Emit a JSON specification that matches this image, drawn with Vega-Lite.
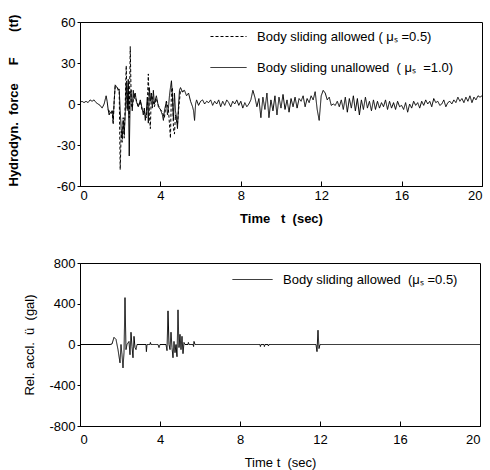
{
  "$schema": "https://vega.github.io/schema/vega-lite/v6.json",
  "padding": {"left": 6, "top": 13, "right": 5, "bottom": 0},
  "spacing": 30,
  "config": {
    "font": "Liberation Sans",
    "view": {"stroke": "black", "strokeWidth": 1},
    "axis": {"grid": false, "domainColor": "black", "tickColor": "black", "labelColor": "black", "titleColor": "black", "labelFont": "Liberation Sans", "labelFontSize": 13, "titleFont": "Liberation Sans", "titleFontSize": 13, "labelExpr": "datum.value < 0 ? '-' + abs(datum.value) : '' + datum.value"},
    "legend": {"labelFont": "Liberation Sans", "labelFontSize": 13, "labelColor": "black", "labelLimit": 0}
  },
  "datasets": {
    "force": [
      {"t":0.0,"v":1,"s":"B"},{"t":0.1,"v":2,"s":"B"},{"t":0.2,"v":1,"s":"B"},{"t":0.3,"v":2,"s":"B"},{"t":0.4,"v":1,"s":"B"},{"t":0.5,"v":3,"s":"B"},{"t":0.6,"v":2,"s":"B"},{"t":0.7,"v":3,"s":"B"},{"t":0.8,"v":1,"s":"B"},{"t":0.9,"v":0,"s":"B"},
      {"t":1.0,"v":-1,"s":"B"},{"t":1.1,"v":-3,"s":"B"},{"t":1.2,"v":0,"s":"B"},{"t":1.3,"v":6,"s":"B"},{"t":1.35,"v":2,"s":"B"},{"t":1.4,"v":-4,"s":"B"},{"t":1.45,"v":-8,"s":"B"},{"t":1.5,"v":-6,"s":"B"},{"t":1.55,"v":-7,"s":"B"},{"t":1.6,"v":-5,"s":"B"},
      {"t":1.65,"v":-12,"s":"B"},{"t":1.7,"v":2,"s":"B"},{"t":1.75,"v":14,"s":"B"},{"t":1.8,"v":13,"s":"B"},{"t":1.85,"v":12,"s":"B"},{"t":1.9,"v":10,"s":"B"},{"t":1.95,"v":11,"s":"B"},{"t":2.0,"v":-5,"s":"B"},{"t":2.05,"v":-18,"s":"B"},{"t":2.1,"v":-25,"s":"B"},
      {"t":2.15,"v":-12,"s":"B"},{"t":2.2,"v":-22,"s":"B"},{"t":2.25,"v":-8,"s":"B"},{"t":2.3,"v":15,"s":"B"},{"t":2.35,"v":-3,"s":"B"},{"t":2.4,"v":18,"s":"B"},{"t":2.45,"v":-38,"s":"B"},{"t":2.5,"v":8,"s":"B"},{"t":2.55,"v":10,"s":"B"},{"t":2.6,"v":-5,"s":"B"},
      {"t":2.65,"v":10,"s":"B"},{"t":2.7,"v":4,"s":"B"},{"t":2.75,"v":8,"s":"B"},{"t":2.8,"v":2,"s":"B"},{"t":2.9,"v":-2,"s":"B"},{"t":3.0,"v":3,"s":"B"},{"t":3.1,"v":-4,"s":"B"},{"t":3.15,"v":-8,"s":"B"},{"t":3.2,"v":-3,"s":"B"},{"t":3.25,"v":-12,"s":"B"},
      {"t":3.3,"v":-6,"s":"B"},{"t":3.35,"v":5,"s":"B"},{"t":3.4,"v":-14,"s":"B"},{"t":3.45,"v":12,"s":"B"},{"t":3.5,"v":2,"s":"B"},{"t":3.55,"v":8,"s":"B"},{"t":3.6,"v":-3,"s":"B"},{"t":3.65,"v":10,"s":"B"},{"t":3.7,"v":0,"s":"B"},{"t":3.8,"v":6,"s":"B"},
      {"t":3.9,"v":-2,"s":"B"},{"t":4.0,"v":-4,"s":"B"},{"t":4.1,"v":-8,"s":"B"},{"t":4.15,"v":-12,"s":"B"},{"t":4.2,"v":-5,"s":"B"},{"t":4.3,"v":2,"s":"B"},{"t":4.35,"v":-8,"s":"B"},{"t":4.4,"v":-3,"s":"B"},{"t":4.45,"v":6,"s":"B"},{"t":4.5,"v":12,"s":"B"},
      {"t":4.55,"v":17,"s":"B"},{"t":4.6,"v":5,"s":"B"},{"t":4.65,"v":-12,"s":"B"},{"t":4.7,"v":8,"s":"B"},{"t":4.75,"v":-5,"s":"B"},{"t":4.8,"v":-10,"s":"B"},{"t":4.85,"v":-18,"s":"B"},{"t":4.9,"v":-2,"s":"B"},{"t":4.95,"v":10,"s":"B"},{"t":5.0,"v":12,"s":"B"},
      {"t":5.1,"v":9,"s":"B"},{"t":5.2,"v":10,"s":"B"},{"t":5.3,"v":6,"s":"B"},{"t":5.4,"v":8,"s":"B"},{"t":5.5,"v":2,"s":"B"},{"t":5.6,"v":-2,"s":"B"},{"t":5.65,"v":-5,"s":"B"},{"t":5.7,"v":-12,"s":"B"},{"t":5.75,"v":0,"s":"B"},{"t":5.8,"v":3,"s":"B"},
      {"t":5.9,"v":-1,"s":"B"},{"t":6.0,"v":2,"s":"B"},{"t":6.1,"v":3,"s":"B"},{"t":6.2,"v":0,"s":"B"},{"t":6.3,"v":2,"s":"B"},{"t":6.4,"v":1,"s":"B"},{"t":6.5,"v":3,"s":"B"},{"t":6.6,"v":-1,"s":"B"},{"t":6.7,"v":2,"s":"B"},{"t":6.8,"v":0,"s":"B"},
      {"t":6.9,"v":3,"s":"B"},{"t":7.0,"v":-2,"s":"B"},{"t":7.1,"v":2,"s":"B"},{"t":7.2,"v":-1,"s":"B"},{"t":7.3,"v":3,"s":"B"},{"t":7.4,"v":1,"s":"B"},{"t":7.5,"v":-2,"s":"B"},{"t":7.6,"v":2,"s":"B"},{"t":7.7,"v":0,"s":"B"},{"t":7.8,"v":3,"s":"B"},
      {"t":7.9,"v":-1,"s":"B"},{"t":8.0,"v":2,"s":"B"},{"t":8.1,"v":-3,"s":"B"},{"t":8.2,"v":1,"s":"B"},{"t":8.3,"v":-2,"s":"B"},{"t":8.4,"v":0,"s":"B"},{"t":8.5,"v":3,"s":"B"},{"t":8.6,"v":10,"s":"B"},{"t":8.7,"v":5,"s":"B"},{"t":8.8,"v":-2,"s":"B"},
      {"t":8.9,"v":4,"s":"B"},{"t":9.0,"v":-10,"s":"B"},{"t":9.1,"v":5,"s":"B"},{"t":9.2,"v":-4,"s":"B"},{"t":9.3,"v":8,"s":"B"},{"t":9.4,"v":-10,"s":"B"},{"t":9.5,"v":3,"s":"B"},{"t":9.6,"v":-5,"s":"B"},{"t":9.7,"v":6,"s":"B"},{"t":9.8,"v":-8,"s":"B"},
      {"t":9.9,"v":5,"s":"B"},{"t":10.0,"v":-3,"s":"B"},{"t":10.1,"v":7,"s":"B"},{"t":10.2,"v":-4,"s":"B"},{"t":10.3,"v":3,"s":"B"},{"t":10.4,"v":-6,"s":"B"},{"t":10.5,"v":4,"s":"B"},{"t":10.6,"v":-2,"s":"B"},{"t":10.7,"v":5,"s":"B"},{"t":10.8,"v":-3,"s":"B"},
      {"t":10.9,"v":4,"s":"B"},{"t":11.0,"v":2,"s":"B"},{"t":11.1,"v":6,"s":"B"},{"t":11.2,"v":-2,"s":"B"},{"t":11.3,"v":4,"s":"B"},{"t":11.4,"v":1,"s":"B"},{"t":11.5,"v":6,"s":"B"},{"t":11.6,"v":3,"s":"B"},{"t":11.7,"v":9,"s":"B"},{"t":11.8,"v":-4,"s":"B"},
      {"t":11.9,"v":-12,"s":"B"},{"t":12.0,"v":6,"s":"B"},{"t":12.1,"v":10,"s":"B"},{"t":12.2,"v":8,"s":"B"},{"t":12.3,"v":3,"s":"B"},{"t":12.4,"v":5,"s":"B"},{"t":12.5,"v":-1,"s":"B"},{"t":12.6,"v":0,"s":"B"},{"t":12.7,"v":-1,"s":"B"},{"t":12.8,"v":2,"s":"B"},
      {"t":12.9,"v":-2,"s":"B"},{"t":13.0,"v":3,"s":"B"},{"t":13.1,"v":-4,"s":"B"},{"t":13.2,"v":5,"s":"B"},{"t":13.3,"v":-6,"s":"B"},{"t":13.4,"v":4,"s":"B"},{"t":13.5,"v":-3,"s":"B"},{"t":13.6,"v":6,"s":"B"},{"t":13.7,"v":-5,"s":"B"},{"t":13.8,"v":4,"s":"B"},
      {"t":13.9,"v":-8,"s":"B"},{"t":14.0,"v":3,"s":"B"},{"t":14.1,"v":-4,"s":"B"},{"t":14.2,"v":5,"s":"B"},{"t":14.3,"v":-3,"s":"B"},{"t":14.4,"v":2,"s":"B"},{"t":14.5,"v":-5,"s":"B"},{"t":14.6,"v":3,"s":"B"},{"t":14.7,"v":-4,"s":"B"},{"t":14.8,"v":2,"s":"B"},
      {"t":14.9,"v":-3,"s":"B"},{"t":15.0,"v":1,"s":"B"},{"t":15.1,"v":-2,"s":"B"},{"t":15.2,"v":3,"s":"B"},{"t":15.3,"v":-4,"s":"B"},{"t":15.4,"v":2,"s":"B"},{"t":15.5,"v":-3,"s":"B"},{"t":15.6,"v":1,"s":"B"},{"t":15.7,"v":-4,"s":"B"},{"t":15.8,"v":2,"s":"B"},
      {"t":15.9,"v":-2,"s":"B"},{"t":16.0,"v":-1,"s":"B"},{"t":16.1,"v":-4,"s":"B"},{"t":16.2,"v":1,"s":"B"},{"t":16.3,"v":-6,"s":"B"},{"t":16.4,"v":0,"s":"B"},{"t":16.5,"v":-3,"s":"B"},{"t":16.6,"v":2,"s":"B"},{"t":16.7,"v":-1,"s":"B"},{"t":16.8,"v":1,"s":"B"},
      {"t":16.9,"v":-3,"s":"B"},{"t":17.0,"v":2,"s":"B"},{"t":17.1,"v":-1,"s":"B"},{"t":17.2,"v":3,"s":"B"},{"t":17.3,"v":0,"s":"B"},{"t":17.4,"v":2,"s":"B"},{"t":17.5,"v":-2,"s":"B"},{"t":17.6,"v":4,"s":"B"},{"t":17.7,"v":1,"s":"B"},{"t":17.8,"v":2,"s":"B"},
      {"t":17.9,"v":-1,"s":"B"},{"t":18.0,"v":0,"s":"B"},{"t":18.1,"v":3,"s":"B"},{"t":18.2,"v":-2,"s":"B"},{"t":18.3,"v":1,"s":"B"},{"t":18.4,"v":2,"s":"B"},{"t":18.5,"v":0,"s":"B"},{"t":18.6,"v":3,"s":"B"},{"t":18.7,"v":1,"s":"B"},{"t":18.8,"v":5,"s":"B"},
      {"t":18.9,"v":2,"s":"B"},{"t":19.0,"v":4,"s":"B"},{"t":19.1,"v":1,"s":"B"},{"t":19.2,"v":5,"s":"B"},{"t":19.3,"v":2,"s":"B"},{"t":19.4,"v":6,"s":"B"},{"t":19.5,"v":1,"s":"B"},{"t":19.6,"v":5,"s":"B"},{"t":19.7,"v":3,"s":"B"},{"t":19.8,"v":6,"s":"B"},
      {"t":19.9,"v":5,"s":"B"},{"t":20.0,"v":6,"s":"B"},
      {"t":1.4,"v":-4,"s":"A"},{"t":1.5,"v":-6,"s":"A"},{"t":1.6,"v":-5,"s":"A"},{"t":1.65,"v":-15,"s":"A"},{"t":1.7,"v":2,"s":"A"},{"t":1.75,"v":13,"s":"A"},{"t":1.85,"v":12,"s":"A"},{"t":1.95,"v":10,"s":"A"},{"t":2.0,"v":-48,"s":"A"},{"t":2.05,"v":-20,"s":"A"},
      {"t":2.1,"v":-28,"s":"A"},{"t":2.15,"v":-10,"s":"A"},{"t":2.2,"v":-25,"s":"A"},{"t":2.25,"v":0,"s":"A"},{"t":2.3,"v":28,"s":"A"},{"t":2.35,"v":-5,"s":"A"},{"t":2.4,"v":15,"s":"A"},{"t":2.45,"v":-10,"s":"A"},{"t":2.5,"v":42,"s":"A"},{"t":2.55,"v":0,"s":"A"},
      {"t":2.6,"v":-3,"s":"A"},{"t":2.7,"v":8,"s":"A"},{"t":2.8,"v":3,"s":"A"},{"t":2.9,"v":-2,"s":"A"},{"t":3.0,"v":2,"s":"A"},{"t":3.1,"v":-5,"s":"A"},{"t":3.2,"v":-6,"s":"A"},{"t":3.3,"v":-10,"s":"A"},{"t":3.35,"v":0,"s":"A"},{"t":3.4,"v":22,"s":"A"},
      {"t":3.45,"v":-8,"s":"A"},{"t":3.5,"v":-18,"s":"A"},{"t":3.55,"v":8,"s":"A"},{"t":3.6,"v":5,"s":"A"},{"t":3.7,"v":-2,"s":"A"},{"t":3.8,"v":4,"s":"A"},{"t":3.9,"v":-1,"s":"A"},{"t":4.0,"v":-4,"s":"A"},{"t":4.1,"v":-6,"s":"A"},{"t":4.2,"v":-10,"s":"A"},
      {"t":4.3,"v":2,"s":"A"},{"t":4.4,"v":-4,"s":"A"},{"t":4.5,"v":-25,"s":"A"},{"t":4.55,"v":10,"s":"A"},{"t":4.6,"v":12,"s":"A"},{"t":4.65,"v":-18,"s":"A"},{"t":4.7,"v":-22,"s":"A"},{"t":4.75,"v":-8,"s":"A"},{"t":4.8,"v":-12,"s":"A"},{"t":4.85,"v":-15,"s":"A"},
      {"t":4.9,"v":-5,"s":"A"},{"t":5.0,"v":10,"s":"A"},{"t":5.1,"v":9,"s":"A"},{"t":5.2,"v":10,"s":"A"}
    ],
    "accel": [
      {"t":0,"v":0},{"t":1.5,"v":0},{"t":1.6,"v":5},{"t":1.7,"v":70},{"t":1.8,"v":50},{"t":1.85,"v":0},{"t":1.9,"v":-50},{"t":2.0,"v":-180},{"t":2.05,"v":0},{"t":2.1,"v":-100},{"t":2.15,"v":-230},{"t":2.2,"v":-80},{"t":2.25,"v":460},{"t":2.3,"v":-50},{"t":2.35,"v":0},{"t":2.45,"v":30},{"t":2.5,"v":-100},{"t":2.55,"v":120},{"t":2.6,"v":-20},{"t":2.65,"v":-130},{"t":2.7,"v":80},{"t":2.75,"v":-30},{"t":2.8,"v":-50},{"t":2.85,"v":0},
      {"t":3.3,"v":0},{"t":3.32,"v":-70},{"t":3.35,"v":0},{"t":3.5,"v":0},{"t":3.52,"v":20},{"t":3.55,"v":0},{"t":3.9,"v":0},{"t":3.95,"v":-30},{"t":4.0,"v":0},{"t":4.3,"v":0},{"t":4.35,"v":-60},{"t":4.4,"v":330},{"t":4.45,"v":0},{"t":4.5,"v":-50},{"t":4.55,"v":120},{"t":4.6,"v":-30},{"t":4.65,"v":-130},{"t":4.7,"v":30},{"t":4.75,"v":-80},{"t":4.8,"v":0},{"t":4.85,"v":-120},{"t":4.9,"v":340},{"t":4.95,"v":-30},{"t":5.0,"v":100},{"t":5.05,"v":-50},{"t":5.1,"v":80},{"t":5.15,"v":-90},{"t":5.2,"v":20},{"t":5.25,"v":0},{"t":5.4,"v":0},{"t":5.42,"v":20},{"t":5.45,"v":0},{"t":5.65,"v":0},{"t":5.68,"v":-20},{"t":5.7,"v":30},{"t":5.75,"v":0},
      {"t":9.0,"v":0},{"t":9.02,"v":-20},{"t":9.05,"v":0},{"t":9.2,"v":0},{"t":9.22,"v":-20},{"t":9.25,"v":0},{"t":9.4,"v":0},{"t":9.42,"v":-15},{"t":9.45,"v":0},{"t":11.8,"v":0},{"t":11.85,"v":-70},{"t":11.9,"v":140},{"t":11.95,"v":-40},{"t":12.0,"v":0},{"t":20,"v":0}
    ]
  },
  "vconcat": [
    {
      "width": 402,
      "height": 164,
      "data": {"name": "force"},
      "mark": {"type": "line", "strokeWidth": 1, "color": "black", "clip": true},
      "encoding": {
        "x": {"field": "t", "type": "quantitative", "scale": {"domain": [0, 20]}, "axis": {"values": [0, 4, 8, 12, 16, 20], "title": "Time\u00a0\u00a0\u00a0t\u00a0\u00a0(sec)", "titleFontWeight": "bold", "tickSize": -5, "labelPadding": 8, "titlePadding": 10}},
        "y": {"field": "v", "type": "quantitative", "scale": {"domain": [-60, 60]}, "axis": {"values": [-60, -30, 0, 30, 60], "title": "Hydrodyn.\u00a0\u00a0force\u00a0\u00a0\u00a0\u00a0\u00a0F\u00a0\u00a0\u00a0\u00a0\u00a0\u00a0\u00a0(tf)", "titleAnchor": "start", "titleFontWeight": "bold", "tickSize": 3, "labelPadding": 2, "titlePadding": 36}},
        "strokeDash": {"field": "s", "type": "nominal", "sort": ["A", "B"], "scale": {"domain": ["A", "B"], "range": [[3, 2], [1, 0]]}, "legend": {"title": null, "orient": "none", "legendX": 130, "legendY": -4, "symbolType": "stroke", "symbolSize": 1296, "symbolStrokeWidth": 1, "symbolStrokeColor": "black", "labelOffset": 10, "rowPadding": 5, "labelExpr": "datum.value == 'A' ? 'Body sliding allowed ( μₛ =0.5)' : 'Body sliding unallowed\u00a0\u00a0( μₛ\u00a0\u00a0=1.0)'"}}
      }
    },
    {
      "width": 400,
      "height": 163,
      "data": {"name": "accel"},
      "mark": {"type": "line", "strokeWidth": 1, "color": "black", "clip": true},
      "encoding": {
        "x": {"field": "t", "type": "quantitative", "scale": {"domain": [0, 20]}, "axis": {"values": [0, 4, 8, 12, 16, 20], "title": "Time t\u00a0\u00a0(sec)", "titleFontWeight": "normal", "tickSize": -5, "labelPadding": 12, "titlePadding": 10}},
        "y": {"field": "v", "type": "quantitative", "scale": {"domain": [-800, 800]}, "axis": {"values": [-800, -400, 0, 400, 800], "title": "Rel. accl.\u00a0\u00a0ü\u00a0\u00a0(gal)", "titleFontWeight": "normal", "tickSize": 3, "labelPadding": 2, "titlePadding": 12}},
        "strokeDash": {"datum": "Body sliding allowed\u00a0\u00a0(μₛ =0.5)", "type": "nominal", "scale": {"range": [[1, 0]]}, "legend": {"title": null, "orient": "none", "legendX": 152, "legendY": -4, "symbolType": "stroke", "symbolSize": 1600, "symbolStrokeWidth": 1, "symbolStrokeColor": "black", "labelOffset": 10}}
      }
    }
  ],
  "resolve": {"scale": {"strokeDash": "independent"}, "legend": {"strokeDash": "independent"}}
}
